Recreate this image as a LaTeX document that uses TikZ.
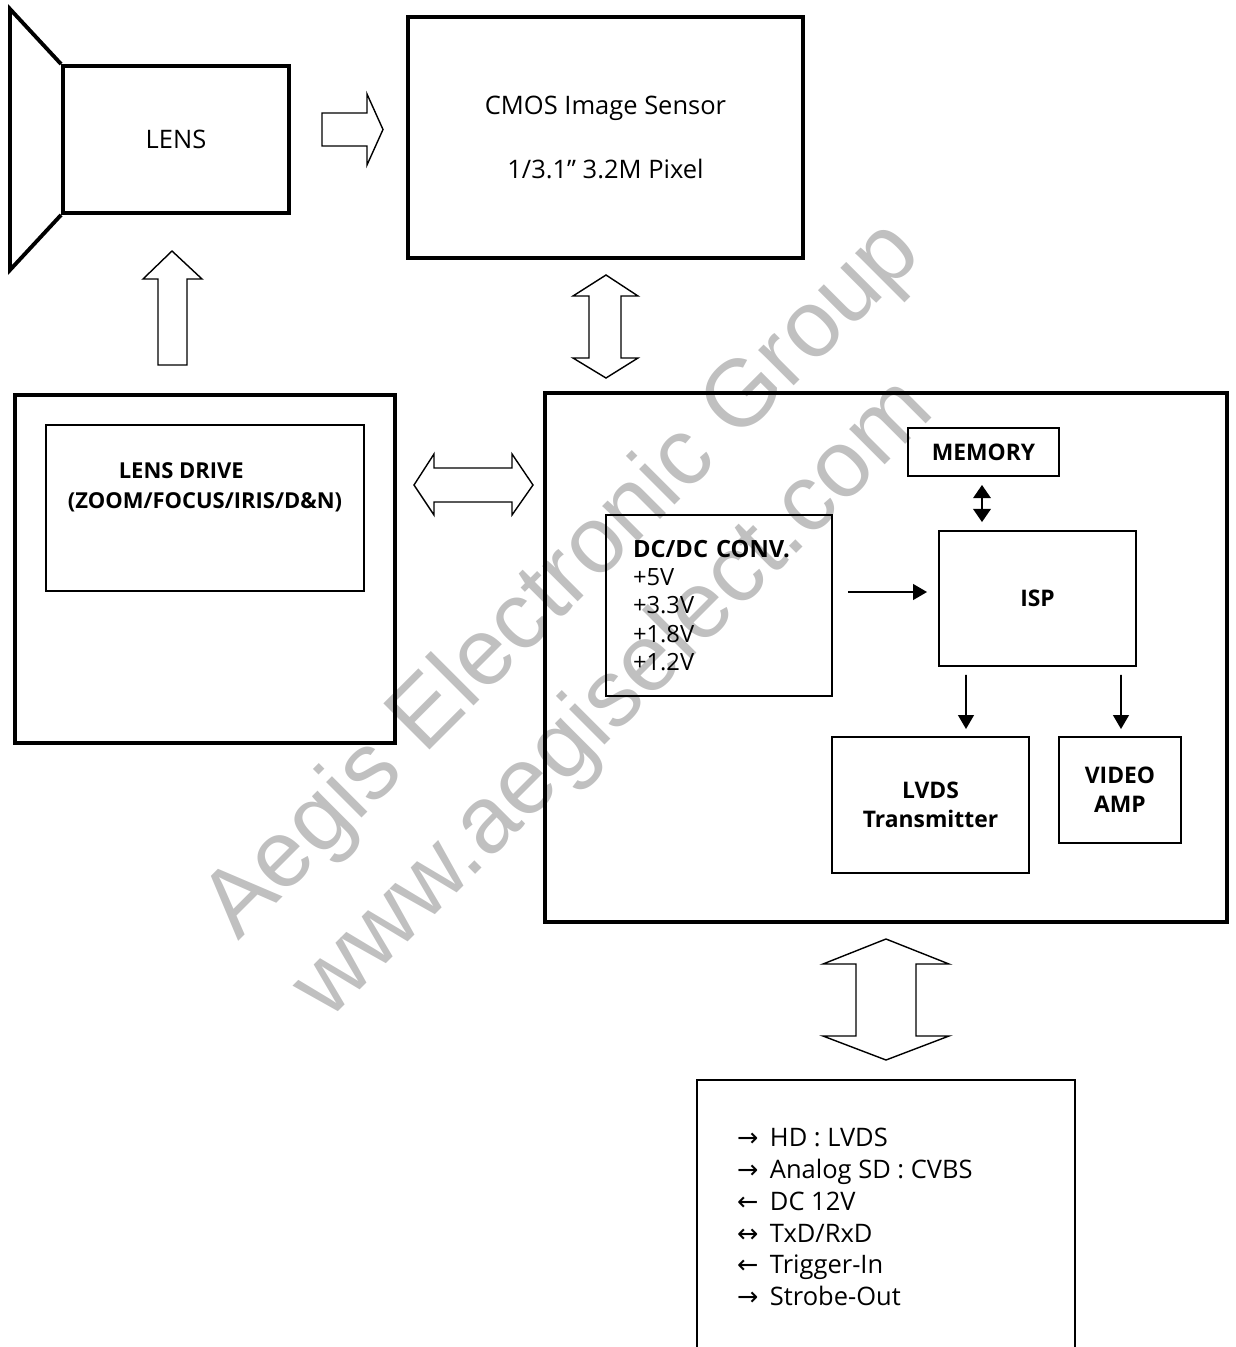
\documentclass[tikz,border=0pt]{standalone}
\usepackage{fontspec}
\usepackage{tikz}
\setmainfont{Open Sans}
\newfontfamily\arrowfont{DejaVu Sans}
\newfontfamily\markfont{Liberation Sans}
\usetikzlibrary{arrows.meta}
\definecolor{markgray}{RGB}{192,192,192}

\begin{document}
\begin{tikzpicture}[
    x=0.02cm, y=-0.02cm,
    bigbox/.style={rectangle, draw, line width=2.2pt, inner sep=0pt},
    subbox/.style={rectangle, draw, line width=1.1pt, inner sep=0pt, align=center, font=\fontsize{13}{16.4}\selectfont\bfseries},
    thinbox/.style={rectangle, draw, line width=0.9pt, inner sep=0pt},
    blockarrow/.style={draw, line width=0.8pt, line join=miter, fill=white},
    sig/.style={line width=1.1pt, -{Triangle[length=8pt,width=9pt]}},
    sigboth/.style={line width=1.1pt, {Triangle[length=7.5pt,width=10pt]}-{Triangle[length=7.5pt,width=10pt]}},
    wmark/.style={text=markgray, font=\markfont\fontsize{54}{60}\selectfont, inner sep=0pt, rotate=45, anchor=base west},
]
\clip (0,0) rectangle (1236,1347);

% Watermark
\node[wmark] (wm1) at (238,942) {Aegis Electronic Group};
\node[wmark] (wm2) at (328,1022) {www.aegiselect.com};

% Lens
\node[bigbox, minimum width=4.52cm, minimum height=2.94cm, font=\fontsize{14.5}{17}\selectfont] (lens) at (176,139.5) {LENS};
\draw[line width=2.2pt, line join=miter] (lens.north west) -- (10,9) -- (10,270) -- (lens.south west);

% Sensor
\node[bigbox, minimum width=7.9cm, minimum height=4.82cm, align=center, font=\fontsize{14.5}{36}\selectfont] (cmos) at (605.5,137.5) {
    CMOS Image Sensor\\
    1/3.1” 3.2M Pixel
};

% Lens drive
\node[bigbox, minimum width=7.6cm, minimum height=6.96cm] (drive) at (205,569) {};
\node[thinbox, minimum width=6.36cm, minimum height=3.32cm] (drivein) at (205,508) {};
\node[align=center, font=\fontsize{12.5}{17}\selectfont\bfseries] (drivetxt) at (205,487) {
    LENS DRIVE\hspace*{27pt}\\
    (ZOOM/FOCUS/IRIS/D\&N)
};

% Main board
\node[bigbox, minimum width=13.64cm, minimum height=10.58cm] (main) at (886,657.5) {};
\node[subbox, minimum width=3.02cm, minimum height=0.96cm] (memory) at (983.5,452) {MEMORY};
\node[subbox, minimum width=4.52cm, minimum height=3.62cm, text width=3.44cm, align=left, font=\fontsize{13.5}{16.2}\selectfont] (dcdc) at (719,605.5) {
    \textbf{DC/DC CONV.}\\
    +5V\\
    +3.3V\\
    +1.8V\\
    +1.2V
};
\node[subbox, minimum width=3.94cm, minimum height=2.7cm] (isp) at (1037.5,598.5) {ISP};
\node[subbox, minimum width=3.94cm, minimum height=2.72cm] (lvds) at (930.5,805) {LVDS\\Transmitter};
\node[subbox, minimum width=2.44cm, minimum height=2.12cm] (vamp) at (1120,790) {VIDEO\\AMP};

% Connector
\node[subbox, minimum width=7.56cm, minimum height=6.4cm] (conn) at (886,1240) {};
\node[anchor=west, align=left, font=\fontsize{14.5}{18.1}\selectfont] (conntxt) at (731,1217) {
    {\arrowfont →}\hspace{6.5pt}HD : LVDS\\
    {\arrowfont →}\hspace{6.5pt}Analog SD : CVBS\\
    {\arrowfont ←}\hspace{6.5pt}DC 12V\\
    {\arrowfont ↔}\hspace{6.5pt}TxD/RxD\\
    {\arrowfont ←}\hspace{6.5pt}Trigger-In\\
    {\arrowfont →}\hspace{6.5pt}Strobe-Out
};

% Block arrows
\draw[blockarrow] (322,113) -- (367,113) -- (367,94) -- (383,129.5) -- (367,165) -- (367,146) -- (322,146) -- cycle;
\draw[blockarrow] (158,365) -- (158,279) -- (143,279) -- (172,251) -- (202,279) -- (187,279) -- (187,365) -- cycle;
\draw[blockarrow] (606,275) -- (638,296) -- (621,296) -- (621,358) -- (638,358) -- (606,378) -- (573,358) -- (589,358) -- (589,296) -- (573,296) -- cycle;
\draw[blockarrow] (414,485) -- (434,454) -- (434,468) -- (512,468) -- (512,454) -- (533,485) -- (512,515) -- (512,502) -- (434,502) -- (434,515) -- cycle;
\draw[blockarrow] (886,939) -- (949,964) -- (916,964) -- (916,1036) -- (949,1036) -- (886,1060) -- (823,1036) -- (856,1036) -- (856,964) -- (823,964) -- cycle;

% Signal arrows
\draw[sigboth] ([shift={(-1.5,8)}]memory.south) -- ([shift={(-55.5,-8)}]isp.north);
\draw[sig] ([shift={(15,-13.5)}]dcdc.east) -- ([shift={(-11,-6.5)}]isp.west);
\draw[sig] ([shift={(-71.5,8)}]isp.south) -- ([shift={(35.5,-7)}]lvds.north);
\draw[sig] ([shift={(83.5,8)}]isp.south) -- ([shift={(1,-7)}]vamp.north);

\end{tikzpicture}
\end{document}
